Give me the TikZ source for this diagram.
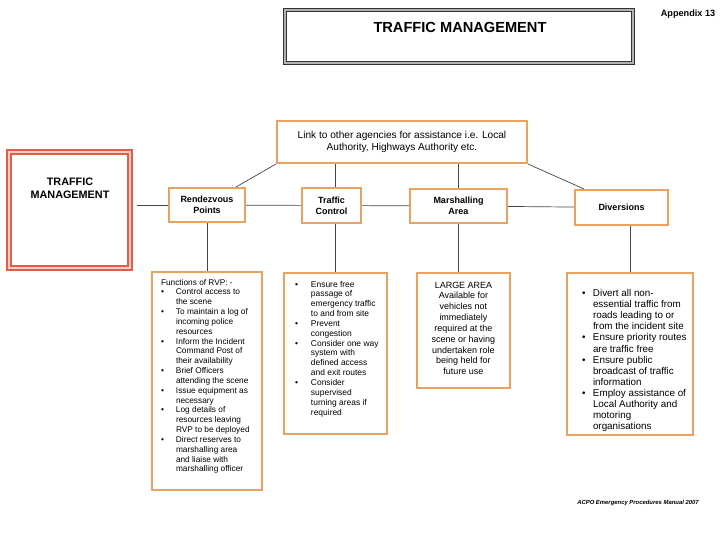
\documentclass[tikz,border=0pt]{standalone}
\usepackage{fontspec}
\setmainfont{Liberation Sans}
\usetikzlibrary{positioning}

\definecolor{boxorange}{RGB}{234,162,96}
\definecolor{tmred}{RGB}{226,92,72}
\definecolor{linegray}{RGB}{70,70,70}

\newlength{\bulhang}
\newcommand{\bitem}[1]{\par\hangindent=\bulhang\hangafter=1\noindent\makebox[\bulhang][l]{\textbullet}#1}
\newcommand{\listtext}[5]{\parbox[c][#2][t]{#1}{\leftskip=#3\rightskip=0pt plus 1fil\parindent=0pt\vspace*{#4}#5}}

\begin{document}
\begin{tikzpicture}[
    conn/.style={draw=linegray, line width=0.5pt},
    headbox/.style={draw=boxorange, line width=1.5pt, rectangle, align=center, font=\bfseries\fontsize{6.4}{7.8}\selectfont},
    listbox/.style={draw=boxorange, line width=1.5pt, rectangle, inner sep=0pt}]
    \useasboundingbox (0,0) rectangle (18,13.5);
    % Page heading
    \node[draw=black!80, double=gray!60, double distance=2pt, line width=0.7pt, minimum width=8.7cm, minimum height=1.325cm] (titlebox) at (11.475, 12.5875) {};
    \node[font=\bfseries\fontsize{10.4}{12}\selectfont] (title) at (11.5, 12.825) {TRAFFIC MANAGEMENT};
    \node[font=\bfseries\fontsize{6.5}{8}\selectfont] (appendix) at (17.2, 13.15) {Appendix 13};
    % Left heading box
    \node[draw=tmred, line width=0.9pt, double=tmred!30, double distance=2pt, minimum width=3.025cm, minimum height=2.9cm] (tmbox) at (1.7375, 8.25) {};
    \node[align=center, font=\bfseries\fontsize{7.7}{9.2}\selectfont] (tmtext) at (1.75, 8.79) {TRAFFIC\\MANAGEMENT};
    % Other agencies
    \node[draw=boxorange, line width=1.5pt, minimum width=6.25cm, minimum height=1.05cm, align=center, font=\fontsize{7.2}{8.6}\selectfont] (agencies) at (10.05, 9.95) {Link to other agencies for assistance i.e. Local\\Authority, Highways Authority etc.};
    % Second row
    \node[headbox, minimum width=1.9cm, minimum height=0.85cm] (rvp) at (5.175, 8.375) {Rendezvous\\Points};
    \node[headbox, minimum width=1.475cm, minimum height=0.875cm] (tc) at (8.2875, 8.3625) {Traffic\\Control};
    \node[headbox, minimum width=2.425cm, minimum height=0.85cm] (ma) at (11.4625, 8.35) {Marshalling\\Area};
    \node[headbox, minimum width=2.325cm, minimum height=0.875cm] (div) at (15.5375, 8.3125) {Diversions};
    % Third row
    \node[listbox, font=\fontsize{5.9}{7}\selectfont] (rvplist) at (5.175, 3.975) {\listtext{2.75cm}{5.45cm}{0.225cm}{0.175cm}{\setlength{\bulhang}{0.375cm}Functions of RVP: -
        \bitem{Control access to\\the scene}
        \bitem{To maintain a log of\\incoming police\\resources}
        \bitem{Inform the Incident\\Command Post of\\their availability}
        \bitem{Brief Officers\\attending the scene}
        \bitem{Issue equipment as\\necessary}
        \bitem{Log details of\\resources leaving\\RVP to be deployed}
        \bitem{Direct reserves to\\marshalling area\\and liaise with\\marshalling officer}}};
    \node[listbox, font=\fontsize{6}{7}\selectfont] (tclist) at (8.3875, 4.6625) {\listtext{2.575cm}{4.025cm}{0.275cm}{0.2cm}{\setlength{\bulhang}{0.4cm}%
        \bitem{Ensure free\\passage of\\emergency traffic\\to and from site}
        \bitem{Prevent\\congestion}
        \bitem{Consider one way\\system with\\defined access\\and exit routes}
        \bitem{Consider\\supervised\\turning areas if\\required}}};
    \node[listbox, font=\fontsize{6.4}{7.7}\selectfont] (malist) at (11.5875, 5.2375) {\listtext{2.325cm}{2.875cm}{0cm}{0.22cm}{\centering LARGE AREA\\Available for\\vehicles not\\immediately\\required at the\\scene or having\\undertaken role\\being held for\\future use}};
    \node[listbox, font=\fontsize{7}{7.9}\selectfont] (divlist) at (15.75, 4.65) {\listtext{3.15cm}{4.05cm}{0.375cm}{0.41cm}{\setlength{\bulhang}{0.275cm}%
        \bitem{Divert all non-\\essential traffic from\\roads leading to or\\from the incident site}
        \bitem{Ensure priority routes\\are traffic free}
        \bitem{Ensure public\\broadcast of traffic\\information}
        \bitem{Employ assistance of\\Local Authority and\\motoring\\organisations}}};
    % Footer
    \node[font=\bfseries\itshape\fontsize{4.2}{5}\selectfont] (footer) at (15.95, 0.925) {ACPO Emergency Procedures Manual 2007};
    % Connecting lines
    \draw[conn] ([xshift=0.15cm]tmbox.east |- rvp) -- (rvp);
    \draw[conn] (rvp) -- (tc);
    \draw[conn] (tc) -- (ma);
    \draw[conn] (ma) -- (div);
    \draw[conn] (agencies.south west) -- ([xshift=-0.25cm]rvp.north east);
    \draw[conn] (agencies.south east) -- ([xshift=0.25cm]div.north west);
    \draw[conn] (agencies.south -| tclist.north) -- (tclist.north |- tc.north);
    \draw[conn] (agencies.south -| ma) -- (ma);
    \draw[conn] (rvp.south) -- (rvp.south |- rvplist.north);
    \draw[conn] (tclist.north |- tc.south) -- (tclist.north);
    \draw[conn] (ma.south) -- (ma.south |- malist.north);
    \draw[conn] (divlist.north |- div.south) -- (divlist.north);
\end{tikzpicture}
\end{document}
